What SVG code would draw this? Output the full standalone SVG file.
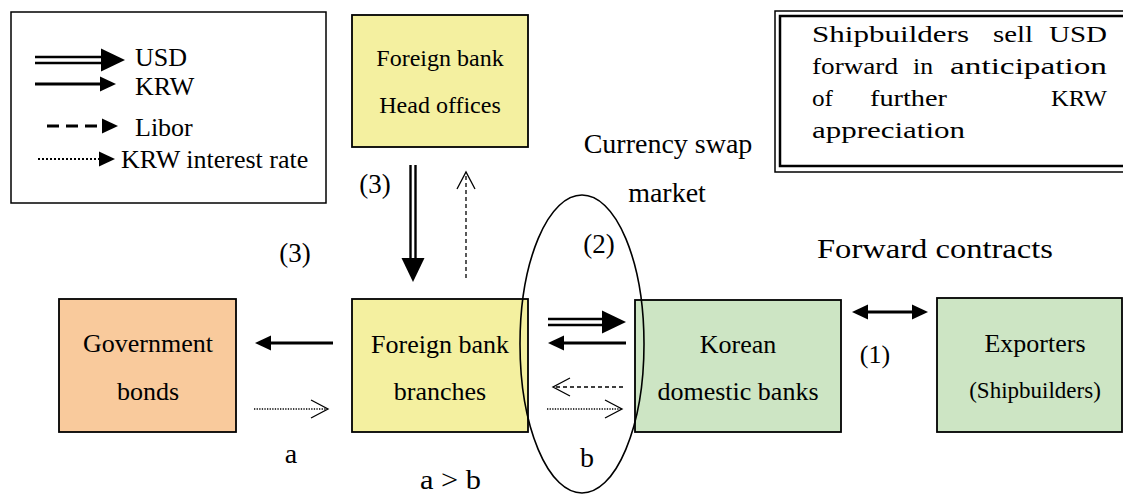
<svg xmlns="http://www.w3.org/2000/svg" xmlns:xlink="http://www.w3.org/1999/xlink" width="1123" height="495" viewBox="0 0 1123 495">
<style>
.box{stroke:#000;stroke-width:1.8}
.yel{fill:#F4F0A0}
.org{fill:#F9CA9C}
.grn{fill:#CDE5C4}
.t{font-family:"Liberation Serif","Times New Roman",serif;fill:#000}
.mid{text-anchor:middle}
.krw{stroke:#000;stroke-width:3;fill:none}
.usd{stroke:#000;stroke-width:2.4;fill:none}
.dash{stroke:#000;stroke-width:1.3;stroke-dasharray:4 3;fill:none}
.dot{stroke:#000;stroke-width:1.3;stroke-dasharray:1.3 1.3;fill:none}
.chev{stroke:#000;stroke-width:1.3;fill:none}
</style>
<defs>
<path id="hK" d="M-16,-7.5 L0,0 L-16,7.5 Z" fill="#000"/>
<path id="hU" d="M-24,-11.5 L0,0 L-24,11.5 Z" fill="#000"/>
<path id="hC" d="M-17,-9 L0,0 L-17,9" class="chev"/>
</defs>

<g id="legend">
<rect x="11" y="12" width="315" height="191" fill="#fff" stroke="#000" stroke-width="1.5"/>
<line x1="35" y1="57" x2="103" y2="57" class="usd"/>
<line x1="35" y1="63" x2="103" y2="63" class="usd"/>
<use xlink:href="#hU" transform="translate(125,60)"/>
<line x1="35" y1="84" x2="101" y2="84" class="krw"/>
<use xlink:href="#hK" transform="translate(116,84)"/>
<line x1="47" y1="126" x2="103" y2="126" stroke="#000" stroke-width="3" stroke-dasharray="12 7"/>
<use xlink:href="#hK" transform="translate(118,126)"/>
<line x1="38" y1="159" x2="100" y2="159" stroke="#000" stroke-width="2" stroke-dasharray="2 2"/>
<use xlink:href="#hK" transform="translate(115,159)"/>
<text x="135" y="66" class="t" font-size="26">USD</text>
<text x="135" y="95" class="t" font-size="26">KRW</text>
<text x="135" y="136" class="t" font-size="26">Libor</text>
<text x="121" y="168" class="t" font-size="26">KRW interest rate</text>
</g>

<g id="head-offices">
<rect x="352" y="15" width="176" height="132" class="box yel"/>
<text x="440" y="66" class="t mid" font-size="24">Foreign bank</text>
<text x="440" y="113" class="t mid" font-size="24">Head offices</text>
</g>

<g id="branches">
<rect x="352" y="299" width="176" height="133" class="box yel"/>
<text x="440" y="353" class="t mid" font-size="26">Foreign bank</text>
<text x="440" y="400" class="t mid" font-size="26">branches</text>
</g>

<g id="gov-bonds">
<rect x="59" y="299" width="177" height="133" class="box org"/>
<text x="148" y="352" class="t mid" font-size="26">Government</text>
<text x="148" y="400" class="t mid" font-size="26">bonds</text>
</g>

<g id="korean-banks">
<rect x="635" y="300" width="206" height="132" class="box grn"/>
<text x="738" y="353" class="t mid" font-size="26">Korean</text>
<text x="738" y="400" class="t mid" font-size="26">domestic banks</text>
</g>

<g id="exporters">
<rect x="937" y="298" width="185" height="134" class="box grn"/>
<text x="1035" y="352" class="t mid" font-size="26">Exporters</text>
<text x="1035" y="398" class="t mid" font-size="23">(Shipbuilders)</text>
</g>

<g id="note">
<rect x="775" y="11" width="360" height="161" fill="#fff" stroke="#000" stroke-width="1.5"/>
<rect x="780" y="16" width="350" height="150" fill="none" stroke="#000" stroke-width="2.5"/>
<text class="t" font-size="24" x="812" y="42" textLength="157" lengthAdjust="spacingAndGlyphs">Shipbuilders</text>
<text class="t" font-size="24" x="993" y="42" textLength="40" lengthAdjust="spacingAndGlyphs">sell</text>
<text class="t" font-size="24" x="1049" y="42" textLength="58" lengthAdjust="spacingAndGlyphs">USD</text>
<text class="t" font-size="24" x="812" y="74" textLength="86" lengthAdjust="spacingAndGlyphs">forward</text>
<text class="t" font-size="24" x="913" y="74" textLength="20" lengthAdjust="spacingAndGlyphs">in</text>
<text class="t" font-size="24" x="950" y="74" textLength="157" lengthAdjust="spacingAndGlyphs">anticipation</text>
<text class="t" font-size="24" x="812" y="106" textLength="21" lengthAdjust="spacingAndGlyphs">of</text>
<text class="t" font-size="24" x="870" y="106" textLength="77" lengthAdjust="spacingAndGlyphs">further</text>
<text class="t" font-size="24" x="1051" y="106" textLength="56" lengthAdjust="spacingAndGlyphs">KRW</text>
<text class="t" font-size="24" x="812" y="138" textLength="153" lengthAdjust="spacingAndGlyphs">appreciation</text>
</g>

<g id="swap-market">
<ellipse cx="582" cy="344" rx="62" ry="149" fill="none" stroke="#000" stroke-width="1.6"/>
<text x="668" y="153" class="t mid" font-size="28">Currency swap</text>
<text x="667" y="202" class="t mid" font-size="28">market</text>
</g>

<g id="connectors">
<line x1="410.5" y1="165" x2="410.5" y2="259" class="usd"/>
<line x1="415.5" y1="165" x2="415.5" y2="259" class="usd"/>
<use xlink:href="#hU" transform="translate(413,282) rotate(90)"/>
<line x1="466" y1="278" x2="466" y2="173" class="dash"/>
<use xlink:href="#hC" transform="translate(466,172) rotate(-90)"/>
<line x1="333" y1="343" x2="270" y2="343" class="krw"/>
<use xlink:href="#hK" transform="translate(255,343) rotate(180)"/>
<line x1="254" y1="409" x2="327" y2="409" class="dot"/>
<use xlink:href="#hC" transform="translate(328,409)"/>
<line x1="548" y1="319" x2="603" y2="319" class="usd"/>
<line x1="548" y1="325" x2="603" y2="325" class="usd"/>
<use xlink:href="#hU" transform="translate(626,322)"/>
<line x1="626" y1="343" x2="562" y2="343" class="krw"/>
<use xlink:href="#hK" transform="translate(548,343) rotate(180)"/>
<line x1="623" y1="387" x2="554" y2="387" class="dash"/>
<use xlink:href="#hC" transform="translate(553,387) rotate(180)"/>
<line x1="547" y1="409" x2="621" y2="409" class="dot"/>
<use xlink:href="#hC" transform="translate(622,409)"/>
<line x1="864" y1="312" x2="916" y2="312" class="krw"/>
<use xlink:href="#hK" transform="translate(852,312) rotate(180)"/>
<use xlink:href="#hK" transform="translate(928,312)"/>
</g>

<g id="labels">
<text x="817" y="258" class="t" font-size="28" textLength="236" lengthAdjust="spacingAndGlyphs">Forward contracts</text>
<text x="875" y="363" class="t mid" font-size="26">(1)</text>
<text x="599" y="253" class="t mid" font-size="27">(2)</text>
<text x="375" y="193" class="t mid" font-size="27">(3)</text>
<text x="295" y="262" class="t mid" font-size="27">(3)</text>
<text x="291" y="463" class="t mid" font-size="28">a</text>
<text x="587" y="467" class="t mid" font-size="28">b</text>
<text x="420" y="489" class="t" font-size="27" textLength="61" lengthAdjust="spacingAndGlyphs">a &gt; b</text>
</g>
</svg>
